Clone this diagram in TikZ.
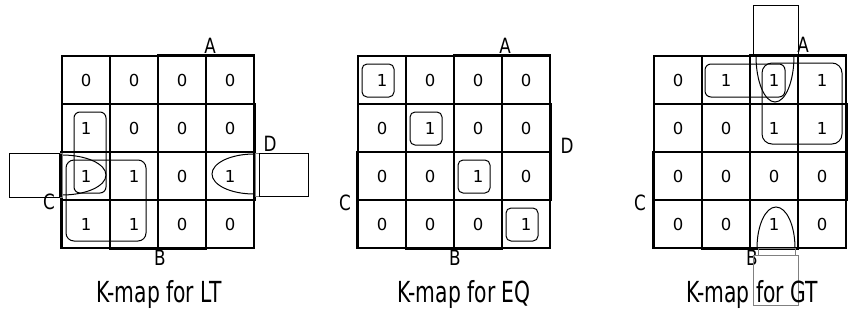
\documentclass[tikz,border=0pt]{standalone}
\usepackage{fontspec}
\setmainfont{DejaVu Sans}
\newfontfamily\labelfont[FakeStretch=0.8]{DejaVu Sans}
\newfontfamily\titlefont[FakeStretch=0.7]{DejaVu Sans}
\usetikzlibrary{calc}

\begin{document}
\begin{tikzpicture}[x=1pt,y=-1pt]
    \tikzset{
    km cell/.style={draw,line width=1.1pt,minimum size=48pt,inner sep=0,font=\fontsize{16.5}{16.5}\selectfont},
    km bar/.style={line width=3pt},
    km var/.style={inner sep=0,font=\labelfont\fontsize{21}{21}\selectfont},
    km loop/.style={line width=1pt,rounded corners=6pt},
    km wrap/.style={line width=1pt},
    km mask/.style={draw=gray,line width=1pt},
    km title/.style={anchor=base,inner sep=0,font=\titlefont\fontsize{29}{29}\selectfont}
    }
    \useasboundingbox (0,0) rectangle (859,322);

    % K-map for LT
    \foreach \row [count=\i] in {{0,0,0,0},{1,0,0,0},{1,1,0,1},{1,1,0,0}}
        \foreach \v [count=\j] in \row
            \node[km cell] (lt\i\j) at (38+48*\j,32+48*\i) {\v};
    \draw[km bar] (lt13.north west) -- (lt14.north east);
    \draw[km bar] (lt24.north east) -- (lt34.south east);
    \draw[km bar] (lt31.north west) -- (lt41.south west);
    \draw[km bar] (lt42.south west) -- (lt43.south east);
    \node[km var] (lta) at (210,46) {A};
    \node[km var] (ltd) at (270,144) {D};
    \node[km var] (ltc) at (49,202) {C};
    \node[km var] (ltb) at (160,258) {B};
    \draw[km loop] (74,112) rectangle (106,193);
    \draw[km loop,rounded corners=8pt] (66,160) rectangle (146,241);
    \draw[km wrap] (62,155) arc[start angle=-90,end angle=90,x radius=44,y radius=20];
    \draw[km wrap] (254,154) arc[start angle=-90,end angle=-270,x radius=42,y radius=20];
    \draw[km mask] (59,153) rectangle (62,197);
    \draw[km mask] (255,153) rectangle (259,196);
    \draw[km wrap] (9,153) rectangle (59,197);
    \draw[km wrap] (259,153) rectangle (308,196);
    \node[km title] (ltt) at (159,302) {K-map for LT};

    % K-map for EQ
    \foreach \row [count=\i] in {{1,0,0,0},{0,1,0,0},{0,0,1,0},{0,0,0,1}}
        \foreach \v [count=\j] in \row
            \node[km cell] (eq\i\j) at (334+48*\j,32+48*\i) {\v};
    \draw[km bar] (eq13.north west) -- (eq14.north east);
    \draw[km bar] (eq24.north east) -- (eq34.south east);
    \draw[km bar] (eq31.north west) -- (eq41.south west);
    \draw[km bar] (eq42.south west) -- (eq43.south east);
    \node[km var] (eqa) at (505,46) {A};
    \node[km var] (eqd) at (567,146) {D};
    \node[km var] (eqc) at (345,203) {C};
    \node[km var] (eqb) at (455,258) {B};
    \foreach \k in {1,...,4}
        \draw[km loop,rounded corners=5pt] ($(eq\k\k)+(-20,-16)$) rectangle ($(eq\k\k)+(12,17)$);
    \node[km title] (eqt) at (464,302) {K-map for EQ};

    % K-map for GT
    \foreach \row [count=\i] in {{0,1,1,1},{0,0,1,1},{0,0,0,0},{0,0,1,0}}
        \foreach \v [count=\j] in \row
            \node[km cell] (gt\i\j) at (630+48*\j,32+48*\i) {\v};
    \draw[km bar] (gt13.north west) -- (gt14.north east);
    \draw[km bar] (gt24.north east) -- (gt34.south east);
    \draw[km bar] (gt31.north west) -- (gt41.south west);
    \draw[km bar] (gt42.south west) -- (gt43.south east);
    \node[km var] (gta) at (803,45) {A};
    \node[km var] (gtd) at (865,146) {D};
    \node[km var] (gtc) at (640,203) {C};
    \node[km var] (gtb) at (752,258) {B};
    \draw[km loop] (705,64) rectangle (785,97);
    \draw[km loop,rounded corners=10pt] (762,63) rectangle (842,144);
    \draw[km wrap] (756,56) arc[start angle=180,end angle=0,x radius=19,y radius=46];
    \draw[km wrap] (757,248) arc[start angle=180,end angle=360,x radius=19,y radius=41];
    \draw[km wrap] (753,5) rectangle (798,55);
    \draw[km mask] (758,248) rectangle (795,255);
    \draw[km mask] (753,255) rectangle (798,305);
    \node[km title] (gtt) at (752,302) {K-map for GT};
\end{tikzpicture}
\end{document}
